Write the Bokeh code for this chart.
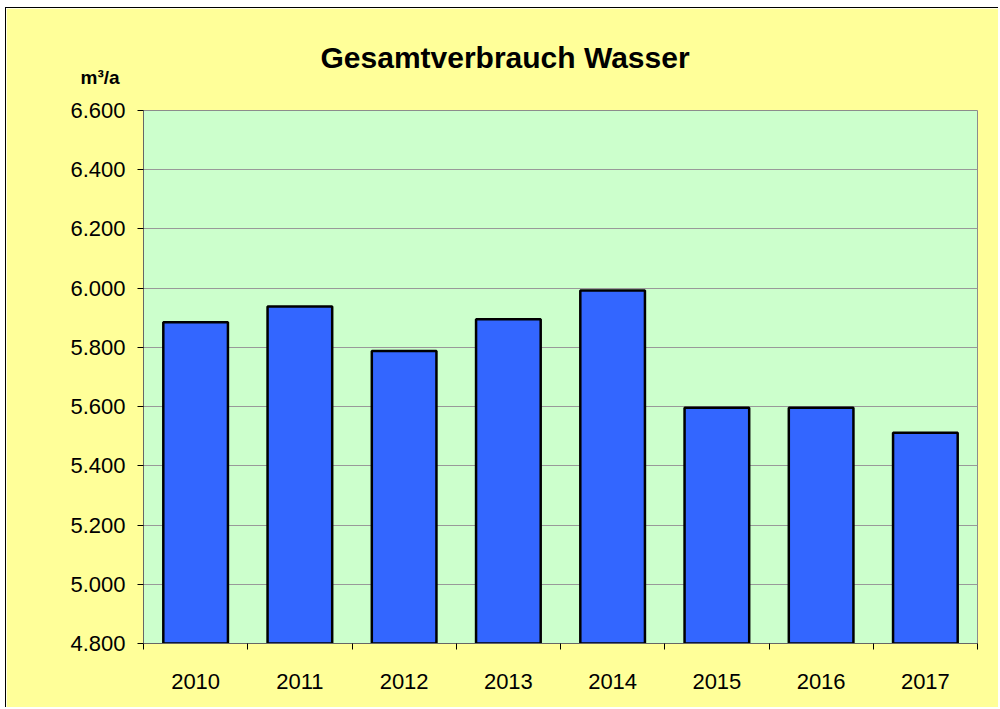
from bokeh.plotting import figure
from bokeh.models import ColumnDataSource, FixedTicker, Range1d, Title
from bokeh.embed import file_html
from bokeh.resources import INLINE

# ---- data ----
years = ["2010", "2011", "2012", "2013", "2014", "2015", "2016", "2017"]
verbrauch = [5885, 5938, 5788, 5895, 5992, 5596, 5596, 5512]  # m³/a
y_ticks = [4800, 5000, 5200, 5400, 5600, 5800, 6000, 6200, 6400, 6600]
y_tick_labels = ["4.800", "5.000", "5.200", "5.400", "5.600", "5.800",
                 "6.000", "6.200", "6.400", "6.600"]
title_text = "Gesamtverbrauch Wasser"
unit_text = "m³/a"

FONT = "Liberation Sans"
W, H = 993, 700
ML, MT, MR, MB = 137, 102, 22, 65

xs = [i + 0.5 for i in range(len(years))]
src = ColumnDataSource(dict(x=xs, top=verbrauch, year=years))

p = figure(width=W, height=H, output_backend="svg", toolbar_location=None,
           x_range=Range1d(0, len(years)), y_range=Range1d(y_ticks[0], y_ticks[-1]),
           min_border_left=ML, min_border_right=MR, min_border_top=MT,
           min_border_bottom=MB)
p.styles = {"border-left": "1px solid black", "border-top": "1px solid black",
            "margin-left": "5px", "margin-top": "7px"}

p.background_fill_color = "#CCFFCC"
p.border_fill_color = "#FFFF99"
p.outline_line_color = "#8C8C8C"
p.outline_line_width = 1

p.vbar(x="x", top="top", bottom=y_ticks[0], width=0.62, source=src,
       fill_color="#3366FF", line_color="#000000", line_width=2.5)

# y axis
p.yaxis.ticker = FixedTicker(ticks=y_ticks)
p.yaxis.major_label_overrides = {t: l for t, l in zip(y_ticks, y_tick_labels)}
p.yaxis.major_label_text_font = FONT
p.yaxis.major_label_text_font_size = "22px"
p.yaxis.major_label_text_color = "#000000"
p.yaxis.major_tick_out = 6
p.yaxis.major_tick_in = 0
p.yaxis.minor_tick_out = 0
p.yaxis.minor_tick_in = 0
p.yaxis.major_tick_line_color = "#000000"
p.yaxis.axis_line_color = "#666666"
p.yaxis.major_label_standoff = 12

# x axis: labels centered on bars, ticks at category boundaries
p.xaxis.ticker = FixedTicker(ticks=xs, minor_ticks=list(range(len(years) + 1)))
p.xaxis.major_label_overrides = {x: y for x, y in zip(xs, years)}
p.xaxis.major_label_text_font = FONT
p.xaxis.major_label_text_font_size = "22px"
p.xaxis.major_label_text_color = "#000000"
p.xaxis.major_tick_out = 0
p.xaxis.major_tick_in = 0
p.xaxis.minor_tick_out = 6
p.xaxis.minor_tick_in = 0
p.xaxis.minor_tick_line_color = "#000000"
p.xaxis.axis_line_color = "#666666"
p.xaxis.major_label_standoff = 24

p.xgrid.grid_line_color = None
p.ygrid.grid_line_color = "#999999"
p.ygrid.grid_line_width = 1

# main title (outer title panel)
p.title.text = title_text
p.title.text_font = FONT
p.title.text_font_style = "bold"
p.title.text_font_size = "30px"
p.title.text_color = "#000000"
p.title.align = "left"
p.title.offset = 177
p.title.standoff = -63

# unit label (panel next to the frame)
p.add_layout(Title(text=unit_text, text_font=FONT, text_font_style="bold",
                   text_font_size="19px", text_color="#000000", align="left",
                   offset=-63, standoff=45), "above")

open("out.html", "w").write(file_html(p, INLINE))
